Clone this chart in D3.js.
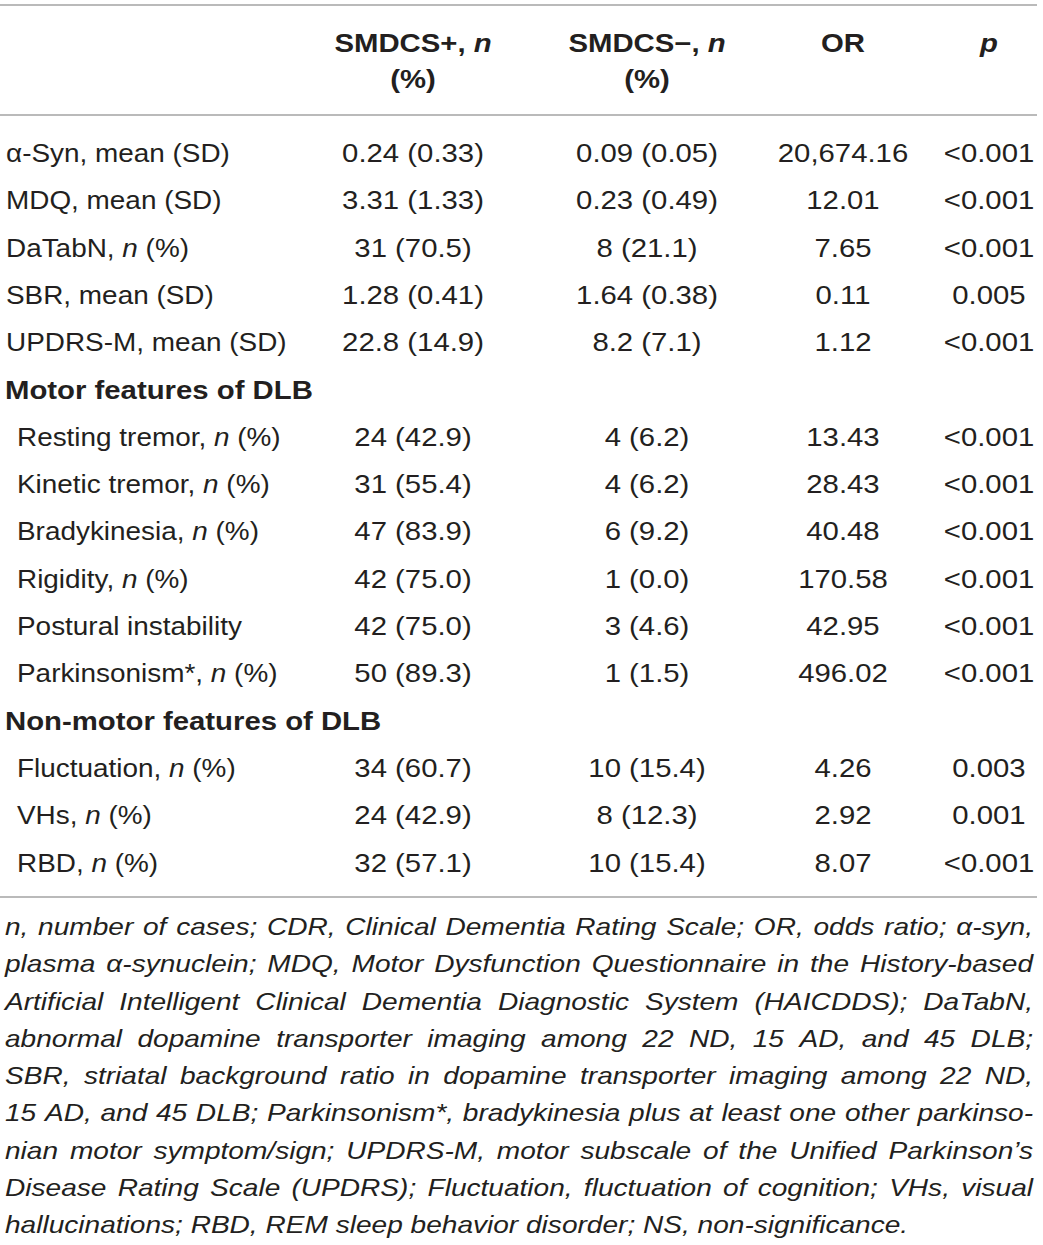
<!DOCTYPE html>
<html>
<head>
<meta charset="utf-8">
<script src="https://cdn.jsdelivr.net/npm/d3@7/dist/d3.min.js"></script>
<style>
  html, body { margin: 0; padding: 0; background: #fff; }
  svg { display: block; }
</style>
</head>
<body>
<div id="table"></div>
<script>
// ---- table content ----
const rowLabels = [
  'α-Syn, mean (SD)',
  'MDQ, mean (SD)',
  'DaTabN, n (%)',
  'SBR, mean (SD)',
  'UPDRS-M, mean (SD)',
  'Motor features of DLB',
  'Resting tremor, n (%)',
  'Kinetic tremor, n (%)',
  'Bradykinesia, n (%)',
  'Rigidity, n (%)',
  'Postural instability',
  'Parkinsonism*, n (%)',
  'Non-motor features of DLB',
  'Fluctuation, n (%)',
  'VHs, n (%)',
  'RBD, n (%)',
];
const groupTitles = ['Motor features of DLB', 'Non-motor features of DLB'];

const smdcsPos = ['0.24 (0.33)', '3.31 (1.33)', '31 (70.5)', '1.28 (0.41)', '22.8 (14.9)', null,
  '24 (42.9)', '31 (55.4)', '47 (83.9)', '42 (75.0)', '42 (75.0)', '50 (89.3)', null,
  '34 (60.7)', '24 (42.9)', '32 (57.1)'];
const smdcsNeg = ['0.09 (0.05)', '0.23 (0.49)', '8 (21.1)', '1.64 (0.38)', '8.2 (7.1)', null,
  '4 (6.2)', '4 (6.2)', '6 (9.2)', '1 (0.0)', '3 (4.6)', '1 (1.5)', null,
  '10 (15.4)', '8 (12.3)', '10 (15.4)'];
const oddsRatio = ['20,674.16', '12.01', '7.65', '0.11', '1.12', null,
  '13.43', '28.43', '40.48', '170.58', '42.95', '496.02', null,
  '4.26', '2.92', '8.07'];
const pValues = ['<0.001', '<0.001', '<0.001', '0.005', '<0.001', null,
  '<0.001', '<0.001', '<0.001', '<0.001', '<0.001', '<0.001', null,
  '0.003', '0.001', '<0.001'];

const valueCols = ['plus', 'minus', 'or', 'p'];
const colValues = { plus: smdcsPos, minus: smdcsNeg, or: oddsRatio, p: pValues };

// header: each line is a list of [text, italic]
const headerLines = {
  plus: [[['SMDCS+, ', false], ['n', true]], [['(%)', false]]],
  minus: [[['SMDCS−, ', false], ['n', true]], [['(%)', false]]],
  or: [[['OR', false]]],
  p: [[['p', true]]],
};

const footnoteLines = [
  'n, number of cases; CDR, Clinical Dementia Rating Scale; OR, odds ratio; α-syn,',
  'plasma α-synuclein; MDQ, Motor Dysfunction Questionnaire in the History-based',
  'Artificial Intelligent Clinical Dementia Diagnostic System (HAICDDS); DaTabN,',
  'abnormal dopamine transporter imaging among 22 ND, 15 AD, and 45 DLB;',
  'SBR, striatal background ratio in dopamine transporter imaging among 22 ND,',
  '15 AD, and 45 DLB; Parkinsonism*, bradykinesia plus at least one other parkinso-',
  'nian motor symptom/sign; UPDRS-M, motor subscale of the Unified Parkinson’s',
  'Disease Rating Scale (UPDRS); Fluctuation, fluctuation of cognition; VHs, visual',
  'hallucinations; RBD, REM sleep behavior disorder; NS, non-significance.',
];

// ---- layout ----
const W = 1043, H = 1245;
const FONT = '"Liberation Sans", Arial, Helvetica, sans-serif';
const INK = '#231f20';
const RULE = '#a3a3a3';
// source glyphs run wider than Arial; stretch horizontally per text kind
const SX_NUM = 1.15, SX_LABEL = 1.095, SX_NOTE = 1.2;
const bodySize = 25.5;
const noteSize = 23.4;

const svg = d3.select('#table').append('svg')
  .attr('width', W)
  .attr('height', H)
  .attr('viewBox', `0 0 ${W} ${H}`);

const y = d3.scaleLinear().domain([0, rowLabels.length - 1]).range([162, 871.5]);
const x = d3.scaleOrdinal().domain(valueCols).range([413, 647, 843, 989]);
const noteY = d3.scaleLinear().domain([0, footnoteLines.length - 1]).range([935, 1233]);

function addText(g, px, py, segments, { anchor = 'start', weight = 'normal', size = bodySize, sx = SX_NUM } = {}) {
  const t = g.append('text')
    .attr('transform', `translate(${px},${py}) scale(${sx},1)`)
    .attr('text-anchor', anchor)
    .attr('font-family', FONT)
    .attr('font-size', size)
    .attr('font-weight', weight)
    .attr('fill', INK);
  segments.forEach(([s, it]) => {
    t.append('tspan').attr('font-style', it ? 'italic' : 'normal').text(s);
  });
  return t;
}

// italic for the standalone "n"
function labelSegments(s) {
  return s.split(/(\bn\b)/).filter(d => d !== '').map(d => [d, d === 'n']);
}

// rules
const rules = [5, 115, 897];
svg.append('g').selectAll('line').data(rules).join('line')
  .attr('x1', 0).attr('x2', 1037)
  .attr('y1', d => d).attr('y2', d => d)
  .attr('stroke', RULE).attr('stroke-width', 1.4);

// header
const head = svg.append('g');
valueCols.forEach(c => {
  headerLines[c].forEach((line, i) => {
    addText(head, x(c), 52 + i * 36, line, { anchor: 'middle', weight: 'bold' });
  });
});

// body rows
const body = svg.append('g');
let indent = false;
rowLabels.forEach((label, i) => {
  if (groupTitles.includes(label)) {
    addText(body, 5, y(i), [[label, false]], { weight: 'bold' });
    indent = true;
    return;
  }
  addText(body, indent ? 17 : 6, y(i), labelSegments(label), { sx: SX_LABEL });
  valueCols.forEach(c => {
    const v = colValues[c][i];
    if (v != null) addText(body, x(c), y(i), [[v, false]], { anchor: 'middle' });
  });
});

// footnote, justified except the last line
const note = svg.append('g');
const noteLeft = 5, noteRight = 1033;
footnoteLines.forEach((line, i) => {
  const words = line.split(' ');
  const t = note.append('text')
    .attr('transform', `translate(${noteLeft},${noteY(i)}) scale(${SX_NOTE},1)`)
    .attr('font-family', FONT)
    .attr('font-size', noteSize)
    .attr('font-style', 'italic')
    .attr('fill', INK);
  const spans = words.map(w => t.append('tspan').text(w));
  const widths = spans.map(s => s.node().getComputedTextLength());
  const total = d3.sum(widths);
  const last = i === footnoteLines.length - 1;
  const space = noteSize * 0.278;
  const gap = last ? space : ((noteRight - noteLeft) / SX_NOTE - total) / (words.length - 1);
  let cx = 0;
  spans.forEach((s, k) => {
    s.attr('x', cx);
    cx += widths[k] + gap;
  });
});
</script>
</body>
</html>
